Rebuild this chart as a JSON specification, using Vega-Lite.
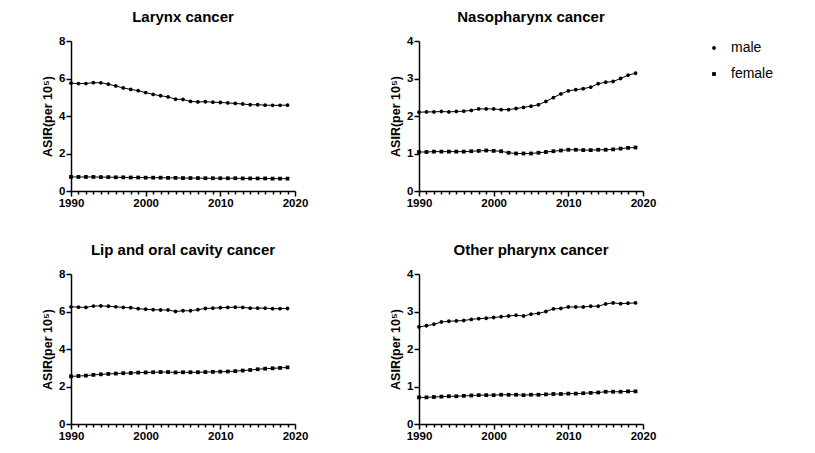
{
  "$schema": "https://vega.github.io/schema/vega-lite/v6.json",
  "padding": {"left": 41, "top": 10, "right": 5, "bottom": 5},
  "datasets": {
    "asir": [
      {"cancer": "Larynx", "sex": "male", "year": 1990, "asir": 5.75},
      {"cancer": "Larynx", "sex": "male", "year": 1991, "asir": 5.73},
      {"cancer": "Larynx", "sex": "male", "year": 1992, "asir": 5.73},
      {"cancer": "Larynx", "sex": "male", "year": 1993, "asir": 5.78},
      {"cancer": "Larynx", "sex": "male", "year": 1994, "asir": 5.77},
      {"cancer": "Larynx", "sex": "male", "year": 1995, "asir": 5.7},
      {"cancer": "Larynx", "sex": "male", "year": 1996, "asir": 5.6},
      {"cancer": "Larynx", "sex": "male", "year": 1997, "asir": 5.5},
      {"cancer": "Larynx", "sex": "male", "year": 1998, "asir": 5.42},
      {"cancer": "Larynx", "sex": "male", "year": 1999, "asir": 5.35},
      {"cancer": "Larynx", "sex": "male", "year": 2000, "asir": 5.25},
      {"cancer": "Larynx", "sex": "male", "year": 2001, "asir": 5.15},
      {"cancer": "Larynx", "sex": "male", "year": 2002, "asir": 5.08},
      {"cancer": "Larynx", "sex": "male", "year": 2003, "asir": 5.02},
      {"cancer": "Larynx", "sex": "male", "year": 2004, "asir": 4.9},
      {"cancer": "Larynx", "sex": "male", "year": 2005, "asir": 4.88},
      {"cancer": "Larynx", "sex": "male", "year": 2006, "asir": 4.78},
      {"cancer": "Larynx", "sex": "male", "year": 2007, "asir": 4.75},
      {"cancer": "Larynx", "sex": "male", "year": 2008, "asir": 4.76},
      {"cancer": "Larynx", "sex": "male", "year": 2009, "asir": 4.74},
      {"cancer": "Larynx", "sex": "male", "year": 2010, "asir": 4.72},
      {"cancer": "Larynx", "sex": "male", "year": 2011, "asir": 4.7},
      {"cancer": "Larynx", "sex": "male", "year": 2012, "asir": 4.67},
      {"cancer": "Larynx", "sex": "male", "year": 2013, "asir": 4.64},
      {"cancer": "Larynx", "sex": "male", "year": 2014, "asir": 4.6},
      {"cancer": "Larynx", "sex": "male", "year": 2015, "asir": 4.6},
      {"cancer": "Larynx", "sex": "male", "year": 2016, "asir": 4.58},
      {"cancer": "Larynx", "sex": "male", "year": 2017, "asir": 4.57},
      {"cancer": "Larynx", "sex": "male", "year": 2018, "asir": 4.57},
      {"cancer": "Larynx", "sex": "male", "year": 2019, "asir": 4.58},
      {"cancer": "Larynx", "sex": "female", "year": 1990, "asir": 0.75},
      {"cancer": "Larynx", "sex": "female", "year": 1991, "asir": 0.75},
      {"cancer": "Larynx", "sex": "female", "year": 1992, "asir": 0.75},
      {"cancer": "Larynx", "sex": "female", "year": 1993, "asir": 0.75},
      {"cancer": "Larynx", "sex": "female", "year": 1994, "asir": 0.74},
      {"cancer": "Larynx", "sex": "female", "year": 1995, "asir": 0.74},
      {"cancer": "Larynx", "sex": "female", "year": 1996, "asir": 0.73},
      {"cancer": "Larynx", "sex": "female", "year": 1997, "asir": 0.73},
      {"cancer": "Larynx", "sex": "female", "year": 1998, "asir": 0.72},
      {"cancer": "Larynx", "sex": "female", "year": 1999, "asir": 0.72},
      {"cancer": "Larynx", "sex": "female", "year": 2000, "asir": 0.71},
      {"cancer": "Larynx", "sex": "female", "year": 2001, "asir": 0.71},
      {"cancer": "Larynx", "sex": "female", "year": 2002, "asir": 0.71},
      {"cancer": "Larynx", "sex": "female", "year": 2003, "asir": 0.7},
      {"cancer": "Larynx", "sex": "female", "year": 2004, "asir": 0.7},
      {"cancer": "Larynx", "sex": "female", "year": 2005, "asir": 0.69},
      {"cancer": "Larynx", "sex": "female", "year": 2006, "asir": 0.69},
      {"cancer": "Larynx", "sex": "female", "year": 2007, "asir": 0.69},
      {"cancer": "Larynx", "sex": "female", "year": 2008, "asir": 0.68},
      {"cancer": "Larynx", "sex": "female", "year": 2009, "asir": 0.68},
      {"cancer": "Larynx", "sex": "female", "year": 2010, "asir": 0.68},
      {"cancer": "Larynx", "sex": "female", "year": 2011, "asir": 0.68},
      {"cancer": "Larynx", "sex": "female", "year": 2012, "asir": 0.68},
      {"cancer": "Larynx", "sex": "female", "year": 2013, "asir": 0.67},
      {"cancer": "Larynx", "sex": "female", "year": 2014, "asir": 0.67},
      {"cancer": "Larynx", "sex": "female", "year": 2015, "asir": 0.67},
      {"cancer": "Larynx", "sex": "female", "year": 2016, "asir": 0.67},
      {"cancer": "Larynx", "sex": "female", "year": 2017, "asir": 0.66},
      {"cancer": "Larynx", "sex": "female", "year": 2018, "asir": 0.66},
      {"cancer": "Larynx", "sex": "female", "year": 2019, "asir": 0.66},
      {"cancer": "Nasopharynx", "sex": "male", "year": 1990, "asir": 2.1},
      {"cancer": "Nasopharynx", "sex": "male", "year": 1991, "asir": 2.11},
      {"cancer": "Nasopharynx", "sex": "male", "year": 1992, "asir": 2.11},
      {"cancer": "Nasopharynx", "sex": "male", "year": 1993, "asir": 2.12},
      {"cancer": "Nasopharynx", "sex": "male", "year": 1994, "asir": 2.11},
      {"cancer": "Nasopharynx", "sex": "male", "year": 1995, "asir": 2.12},
      {"cancer": "Nasopharynx", "sex": "male", "year": 1996, "asir": 2.13},
      {"cancer": "Nasopharynx", "sex": "male", "year": 1997, "asir": 2.15},
      {"cancer": "Nasopharynx", "sex": "male", "year": 1998, "asir": 2.19},
      {"cancer": "Nasopharynx", "sex": "male", "year": 1999, "asir": 2.19},
      {"cancer": "Nasopharynx", "sex": "male", "year": 2000, "asir": 2.19},
      {"cancer": "Nasopharynx", "sex": "male", "year": 2001, "asir": 2.17},
      {"cancer": "Nasopharynx", "sex": "male", "year": 2002, "asir": 2.17},
      {"cancer": "Nasopharynx", "sex": "male", "year": 2003, "asir": 2.2},
      {"cancer": "Nasopharynx", "sex": "male", "year": 2004, "asir": 2.23},
      {"cancer": "Nasopharynx", "sex": "male", "year": 2005, "asir": 2.26},
      {"cancer": "Nasopharynx", "sex": "male", "year": 2006, "asir": 2.3},
      {"cancer": "Nasopharynx", "sex": "male", "year": 2007, "asir": 2.39},
      {"cancer": "Nasopharynx", "sex": "male", "year": 2008, "asir": 2.49},
      {"cancer": "Nasopharynx", "sex": "male", "year": 2009, "asir": 2.59},
      {"cancer": "Nasopharynx", "sex": "male", "year": 2010, "asir": 2.67},
      {"cancer": "Nasopharynx", "sex": "male", "year": 2011, "asir": 2.7},
      {"cancer": "Nasopharynx", "sex": "male", "year": 2012, "asir": 2.73},
      {"cancer": "Nasopharynx", "sex": "male", "year": 2013, "asir": 2.77},
      {"cancer": "Nasopharynx", "sex": "male", "year": 2014, "asir": 2.86},
      {"cancer": "Nasopharynx", "sex": "male", "year": 2015, "asir": 2.9},
      {"cancer": "Nasopharynx", "sex": "male", "year": 2016, "asir": 2.92},
      {"cancer": "Nasopharynx", "sex": "male", "year": 2017, "asir": 3.0},
      {"cancer": "Nasopharynx", "sex": "male", "year": 2018, "asir": 3.09},
      {"cancer": "Nasopharynx", "sex": "male", "year": 2019, "asir": 3.14},
      {"cancer": "Nasopharynx", "sex": "female", "year": 1990, "asir": 1.04},
      {"cancer": "Nasopharynx", "sex": "female", "year": 1991, "asir": 1.04},
      {"cancer": "Nasopharynx", "sex": "female", "year": 1992, "asir": 1.05},
      {"cancer": "Nasopharynx", "sex": "female", "year": 1993, "asir": 1.05},
      {"cancer": "Nasopharynx", "sex": "female", "year": 1994, "asir": 1.05},
      {"cancer": "Nasopharynx", "sex": "female", "year": 1995, "asir": 1.05},
      {"cancer": "Nasopharynx", "sex": "female", "year": 1996, "asir": 1.05},
      {"cancer": "Nasopharynx", "sex": "female", "year": 1997, "asir": 1.06},
      {"cancer": "Nasopharynx", "sex": "female", "year": 1998, "asir": 1.07},
      {"cancer": "Nasopharynx", "sex": "female", "year": 1999, "asir": 1.08},
      {"cancer": "Nasopharynx", "sex": "female", "year": 2000, "asir": 1.07},
      {"cancer": "Nasopharynx", "sex": "female", "year": 2001, "asir": 1.06},
      {"cancer": "Nasopharynx", "sex": "female", "year": 2002, "asir": 1.02},
      {"cancer": "Nasopharynx", "sex": "female", "year": 2003, "asir": 1.0},
      {"cancer": "Nasopharynx", "sex": "female", "year": 2004, "asir": 1.0},
      {"cancer": "Nasopharynx", "sex": "female", "year": 2005, "asir": 1.0},
      {"cancer": "Nasopharynx", "sex": "female", "year": 2006, "asir": 1.02},
      {"cancer": "Nasopharynx", "sex": "female", "year": 2007, "asir": 1.04},
      {"cancer": "Nasopharynx", "sex": "female", "year": 2008, "asir": 1.06},
      {"cancer": "Nasopharynx", "sex": "female", "year": 2009, "asir": 1.08},
      {"cancer": "Nasopharynx", "sex": "female", "year": 2010, "asir": 1.1},
      {"cancer": "Nasopharynx", "sex": "female", "year": 2011, "asir": 1.1},
      {"cancer": "Nasopharynx", "sex": "female", "year": 2012, "asir": 1.09},
      {"cancer": "Nasopharynx", "sex": "female", "year": 2013, "asir": 1.09},
      {"cancer": "Nasopharynx", "sex": "female", "year": 2014, "asir": 1.1},
      {"cancer": "Nasopharynx", "sex": "female", "year": 2015, "asir": 1.1},
      {"cancer": "Nasopharynx", "sex": "female", "year": 2016, "asir": 1.11},
      {"cancer": "Nasopharynx", "sex": "female", "year": 2017, "asir": 1.13},
      {"cancer": "Nasopharynx", "sex": "female", "year": 2018, "asir": 1.15},
      {"cancer": "Nasopharynx", "sex": "female", "year": 2019, "asir": 1.16},
      {"cancer": "Lip and oral cavity", "sex": "male", "year": 1990, "asir": 6.25},
      {"cancer": "Lip and oral cavity", "sex": "male", "year": 1991, "asir": 6.23},
      {"cancer": "Lip and oral cavity", "sex": "male", "year": 1992, "asir": 6.22},
      {"cancer": "Lip and oral cavity", "sex": "male", "year": 1993, "asir": 6.29},
      {"cancer": "Lip and oral cavity", "sex": "male", "year": 1994, "asir": 6.3},
      {"cancer": "Lip and oral cavity", "sex": "male", "year": 1995, "asir": 6.28},
      {"cancer": "Lip and oral cavity", "sex": "male", "year": 1996, "asir": 6.25},
      {"cancer": "Lip and oral cavity", "sex": "male", "year": 1997, "asir": 6.22},
      {"cancer": "Lip and oral cavity", "sex": "male", "year": 1998, "asir": 6.2},
      {"cancer": "Lip and oral cavity", "sex": "male", "year": 1999, "asir": 6.15},
      {"cancer": "Lip and oral cavity", "sex": "male", "year": 2000, "asir": 6.12},
      {"cancer": "Lip and oral cavity", "sex": "male", "year": 2001, "asir": 6.1},
      {"cancer": "Lip and oral cavity", "sex": "male", "year": 2002, "asir": 6.08},
      {"cancer": "Lip and oral cavity", "sex": "male", "year": 2003, "asir": 6.08},
      {"cancer": "Lip and oral cavity", "sex": "male", "year": 2004, "asir": 6.0},
      {"cancer": "Lip and oral cavity", "sex": "male", "year": 2005, "asir": 6.04},
      {"cancer": "Lip and oral cavity", "sex": "male", "year": 2006, "asir": 6.04},
      {"cancer": "Lip and oral cavity", "sex": "male", "year": 2007, "asir": 6.1},
      {"cancer": "Lip and oral cavity", "sex": "male", "year": 2008, "asir": 6.16},
      {"cancer": "Lip and oral cavity", "sex": "male", "year": 2009, "asir": 6.18},
      {"cancer": "Lip and oral cavity", "sex": "male", "year": 2010, "asir": 6.2},
      {"cancer": "Lip and oral cavity", "sex": "male", "year": 2011, "asir": 6.22},
      {"cancer": "Lip and oral cavity", "sex": "male", "year": 2012, "asir": 6.23},
      {"cancer": "Lip and oral cavity", "sex": "male", "year": 2013, "asir": 6.22},
      {"cancer": "Lip and oral cavity", "sex": "male", "year": 2014, "asir": 6.18},
      {"cancer": "Lip and oral cavity", "sex": "male", "year": 2015, "asir": 6.18},
      {"cancer": "Lip and oral cavity", "sex": "male", "year": 2016, "asir": 6.18},
      {"cancer": "Lip and oral cavity", "sex": "male", "year": 2017, "asir": 6.15},
      {"cancer": "Lip and oral cavity", "sex": "male", "year": 2018, "asir": 6.15},
      {"cancer": "Lip and oral cavity", "sex": "male", "year": 2019, "asir": 6.16},
      {"cancer": "Lip and oral cavity", "sex": "female", "year": 1990, "asir": 2.54},
      {"cancer": "Lip and oral cavity", "sex": "female", "year": 1991, "asir": 2.56},
      {"cancer": "Lip and oral cavity", "sex": "female", "year": 1992, "asir": 2.58},
      {"cancer": "Lip and oral cavity", "sex": "female", "year": 1993, "asir": 2.62},
      {"cancer": "Lip and oral cavity", "sex": "female", "year": 1994, "asir": 2.65},
      {"cancer": "Lip and oral cavity", "sex": "female", "year": 1995, "asir": 2.67},
      {"cancer": "Lip and oral cavity", "sex": "female", "year": 1996, "asir": 2.69},
      {"cancer": "Lip and oral cavity", "sex": "female", "year": 1997, "asir": 2.71},
      {"cancer": "Lip and oral cavity", "sex": "female", "year": 1998, "asir": 2.72},
      {"cancer": "Lip and oral cavity", "sex": "female", "year": 1999, "asir": 2.74},
      {"cancer": "Lip and oral cavity", "sex": "female", "year": 2000, "asir": 2.75},
      {"cancer": "Lip and oral cavity", "sex": "female", "year": 2001, "asir": 2.76},
      {"cancer": "Lip and oral cavity", "sex": "female", "year": 2002, "asir": 2.77},
      {"cancer": "Lip and oral cavity", "sex": "female", "year": 2003, "asir": 2.77},
      {"cancer": "Lip and oral cavity", "sex": "female", "year": 2004, "asir": 2.75},
      {"cancer": "Lip and oral cavity", "sex": "female", "year": 2005, "asir": 2.76},
      {"cancer": "Lip and oral cavity", "sex": "female", "year": 2006, "asir": 2.76},
      {"cancer": "Lip and oral cavity", "sex": "female", "year": 2007, "asir": 2.76},
      {"cancer": "Lip and oral cavity", "sex": "female", "year": 2008, "asir": 2.77},
      {"cancer": "Lip and oral cavity", "sex": "female", "year": 2009, "asir": 2.78},
      {"cancer": "Lip and oral cavity", "sex": "female", "year": 2010, "asir": 2.79},
      {"cancer": "Lip and oral cavity", "sex": "female", "year": 2011, "asir": 2.8},
      {"cancer": "Lip and oral cavity", "sex": "female", "year": 2012, "asir": 2.82},
      {"cancer": "Lip and oral cavity", "sex": "female", "year": 2013, "asir": 2.85},
      {"cancer": "Lip and oral cavity", "sex": "female", "year": 2014, "asir": 2.88},
      {"cancer": "Lip and oral cavity", "sex": "female", "year": 2015, "asir": 2.92},
      {"cancer": "Lip and oral cavity", "sex": "female", "year": 2016, "asir": 2.95},
      {"cancer": "Lip and oral cavity", "sex": "female", "year": 2017, "asir": 2.97},
      {"cancer": "Lip and oral cavity", "sex": "female", "year": 2018, "asir": 2.99},
      {"cancer": "Lip and oral cavity", "sex": "female", "year": 2019, "asir": 3.02},
      {"cancer": "Other pharynx", "sex": "male", "year": 1990, "asir": 2.59},
      {"cancer": "Other pharynx", "sex": "male", "year": 1991, "asir": 2.62},
      {"cancer": "Other pharynx", "sex": "male", "year": 1992, "asir": 2.66},
      {"cancer": "Other pharynx", "sex": "male", "year": 1993, "asir": 2.72},
      {"cancer": "Other pharynx", "sex": "male", "year": 1994, "asir": 2.74},
      {"cancer": "Other pharynx", "sex": "male", "year": 1995, "asir": 2.75},
      {"cancer": "Other pharynx", "sex": "male", "year": 1996, "asir": 2.76},
      {"cancer": "Other pharynx", "sex": "male", "year": 1997, "asir": 2.79},
      {"cancer": "Other pharynx", "sex": "male", "year": 1998, "asir": 2.81},
      {"cancer": "Other pharynx", "sex": "male", "year": 1999, "asir": 2.82},
      {"cancer": "Other pharynx", "sex": "male", "year": 2000, "asir": 2.84},
      {"cancer": "Other pharynx", "sex": "male", "year": 2001, "asir": 2.86},
      {"cancer": "Other pharynx", "sex": "male", "year": 2002, "asir": 2.88},
      {"cancer": "Other pharynx", "sex": "male", "year": 2003, "asir": 2.9},
      {"cancer": "Other pharynx", "sex": "male", "year": 2004, "asir": 2.88},
      {"cancer": "Other pharynx", "sex": "male", "year": 2005, "asir": 2.93},
      {"cancer": "Other pharynx", "sex": "male", "year": 2006, "asir": 2.95},
      {"cancer": "Other pharynx", "sex": "male", "year": 2007, "asir": 3.0},
      {"cancer": "Other pharynx", "sex": "male", "year": 2008, "asir": 3.07},
      {"cancer": "Other pharynx", "sex": "male", "year": 2009, "asir": 3.08},
      {"cancer": "Other pharynx", "sex": "male", "year": 2010, "asir": 3.12},
      {"cancer": "Other pharynx", "sex": "male", "year": 2011, "asir": 3.12},
      {"cancer": "Other pharynx", "sex": "male", "year": 2012, "asir": 3.12},
      {"cancer": "Other pharynx", "sex": "male", "year": 2013, "asir": 3.14},
      {"cancer": "Other pharynx", "sex": "male", "year": 2014, "asir": 3.14},
      {"cancer": "Other pharynx", "sex": "male", "year": 2015, "asir": 3.2},
      {"cancer": "Other pharynx", "sex": "male", "year": 2016, "asir": 3.23},
      {"cancer": "Other pharynx", "sex": "male", "year": 2017, "asir": 3.21},
      {"cancer": "Other pharynx", "sex": "male", "year": 2018, "asir": 3.22},
      {"cancer": "Other pharynx", "sex": "male", "year": 2019, "asir": 3.23},
      {"cancer": "Other pharynx", "sex": "female", "year": 1990, "asir": 0.71},
      {"cancer": "Other pharynx", "sex": "female", "year": 1991, "asir": 0.71},
      {"cancer": "Other pharynx", "sex": "female", "year": 1992, "asir": 0.72},
      {"cancer": "Other pharynx", "sex": "female", "year": 1993, "asir": 0.73},
      {"cancer": "Other pharynx", "sex": "female", "year": 1994, "asir": 0.74},
      {"cancer": "Other pharynx", "sex": "female", "year": 1995, "asir": 0.74},
      {"cancer": "Other pharynx", "sex": "female", "year": 1996, "asir": 0.75},
      {"cancer": "Other pharynx", "sex": "female", "year": 1997, "asir": 0.76},
      {"cancer": "Other pharynx", "sex": "female", "year": 1998, "asir": 0.77},
      {"cancer": "Other pharynx", "sex": "female", "year": 1999, "asir": 0.77},
      {"cancer": "Other pharynx", "sex": "female", "year": 2000, "asir": 0.77},
      {"cancer": "Other pharynx", "sex": "female", "year": 2001, "asir": 0.78},
      {"cancer": "Other pharynx", "sex": "female", "year": 2002, "asir": 0.78},
      {"cancer": "Other pharynx", "sex": "female", "year": 2003, "asir": 0.78},
      {"cancer": "Other pharynx", "sex": "female", "year": 2004, "asir": 0.77},
      {"cancer": "Other pharynx", "sex": "female", "year": 2005, "asir": 0.78},
      {"cancer": "Other pharynx", "sex": "female", "year": 2006, "asir": 0.78},
      {"cancer": "Other pharynx", "sex": "female", "year": 2007, "asir": 0.79},
      {"cancer": "Other pharynx", "sex": "female", "year": 2008, "asir": 0.8},
      {"cancer": "Other pharynx", "sex": "female", "year": 2009, "asir": 0.8},
      {"cancer": "Other pharynx", "sex": "female", "year": 2010, "asir": 0.81},
      {"cancer": "Other pharynx", "sex": "female", "year": 2011, "asir": 0.81},
      {"cancer": "Other pharynx", "sex": "female", "year": 2012, "asir": 0.82},
      {"cancer": "Other pharynx", "sex": "female", "year": 2013, "asir": 0.83},
      {"cancer": "Other pharynx", "sex": "female", "year": 2014, "asir": 0.84},
      {"cancer": "Other pharynx", "sex": "female", "year": 2015, "asir": 0.86},
      {"cancer": "Other pharynx", "sex": "female", "year": 2016, "asir": 0.86},
      {"cancer": "Other pharynx", "sex": "female", "year": 2017, "asir": 0.86},
      {"cancer": "Other pharynx", "sex": "female", "year": 2018, "asir": 0.87},
      {"cancer": "Other pharynx", "sex": "female", "year": 2019, "asir": 0.87}
    ]
  },
  "data": {"name": "asir"},
  "columns": 2,
  "spacing": {"row": 34, "column": 81},
  "concat": [
    {
      "title": "Larynx cancer",
      "width": 224,
      "height": 150,
      "transform": [{"filter": "datum.cancer === 'Larynx'"}],
      "encoding": {
        "x": {"field": "year", "type": "quantitative", "title": null, "scale": {"domain": [1990, 2020], "nice": false, "zero": false},
              "axis": {"values": [1990,1991,1992,1993,1994,1995,1996,1997,1998,1999,2000,2001,2002,2003,2004,2005,2006,2007,2008,2009,2010,2011,2012,2013,2014,2015,2016,2017,2018,2019,2020],
                       "format": "d",
                       "labelExpr": "datum.value % 10 === 0 ? datum.label : ''",
                       "tickSize": {"condition": {"test": "datum.value % 10 === 0", "value": 5}, "value": 3}}},
        "y": {"field": "asir", "type": "quantitative", "title": "ASIR(per 10⁵)", "scale": {"domain": [0, 8], "nice": false}, "axis": {"values": [0, 2, 4, 6, 8]}}
      },
      "layer": [
        {"mark": {"type": "line", "color": "black", "strokeWidth": 1}, "encoding": {"detail": {"field": "sex"}}},
        {"mark": {"type": "point", "filled": true, "color": "black", "opacity": 1, "size": 70},
         "encoding": {"shape": {"field": "sex", "type": "nominal", "title": null,
           "scale": {"domain": ["male", "female"], "range": ["M-0.45,0A0.45,0.45,0,1,0,0.45,0A0.45,0.45,0,1,0,-0.45,0Z", "M-0.45,-0.45H0.45V0.45H-0.45Z"]}}}}
      ]
    },
    {
      "title": "Nasopharynx cancer",
      "width": 224,
      "height": 150,
      "transform": [{"filter": "datum.cancer === 'Nasopharynx'"}],
      "encoding": {
        "x": {"field": "year", "type": "quantitative", "title": null, "scale": {"domain": [1990, 2020], "nice": false, "zero": false},
              "axis": {"values": [1990,1991,1992,1993,1994,1995,1996,1997,1998,1999,2000,2001,2002,2003,2004,2005,2006,2007,2008,2009,2010,2011,2012,2013,2014,2015,2016,2017,2018,2019,2020],
                       "format": "d",
                       "labelExpr": "datum.value % 10 === 0 ? datum.label : ''",
                       "tickSize": {"condition": {"test": "datum.value % 10 === 0", "value": 5}, "value": 3}}},
        "y": {"field": "asir", "type": "quantitative", "title": "ASIR(per 10⁵)", "scale": {"domain": [0, 4], "nice": false}, "axis": {"values": [0, 1, 2, 3, 4]}}
      },
      "layer": [
        {"mark": {"type": "line", "color": "black", "strokeWidth": 1}, "encoding": {"detail": {"field": "sex"}}},
        {"mark": {"type": "point", "filled": true, "color": "black", "opacity": 1, "size": 70},
         "encoding": {"shape": {"field": "sex", "type": "nominal", "title": null,
           "scale": {"domain": ["male", "female"], "range": ["M-0.45,0A0.45,0.45,0,1,0,0.45,0A0.45,0.45,0,1,0,-0.45,0Z", "M-0.45,-0.45H0.45V0.45H-0.45Z"]}}}}
      ]
    },
    {
      "title": "Lip and oral cavity cancer",
      "width": 224,
      "height": 150,
      "transform": [{"filter": "datum.cancer === 'Lip and oral cavity'"}],
      "encoding": {
        "x": {"field": "year", "type": "quantitative", "title": null, "scale": {"domain": [1990, 2020], "nice": false, "zero": false},
              "axis": {"values": [1990,1991,1992,1993,1994,1995,1996,1997,1998,1999,2000,2001,2002,2003,2004,2005,2006,2007,2008,2009,2010,2011,2012,2013,2014,2015,2016,2017,2018,2019,2020],
                       "format": "d",
                       "labelExpr": "datum.value % 10 === 0 ? datum.label : ''",
                       "tickSize": {"condition": {"test": "datum.value % 10 === 0", "value": 5}, "value": 3}}},
        "y": {"field": "asir", "type": "quantitative", "title": "ASIR(per 10⁵)", "scale": {"domain": [0, 8], "nice": false}, "axis": {"values": [0, 2, 4, 6, 8]}}
      },
      "layer": [
        {"mark": {"type": "line", "color": "black", "strokeWidth": 1}, "encoding": {"detail": {"field": "sex"}}},
        {"mark": {"type": "point", "filled": true, "color": "black", "opacity": 1, "size": 70},
         "encoding": {"shape": {"field": "sex", "type": "nominal", "title": null,
           "scale": {"domain": ["male", "female"], "range": ["M-0.45,0A0.45,0.45,0,1,0,0.45,0A0.45,0.45,0,1,0,-0.45,0Z", "M-0.45,-0.45H0.45V0.45H-0.45Z"]}}}}
      ]
    },
    {
      "title": "Other pharynx cancer",
      "width": 224,
      "height": 150,
      "transform": [{"filter": "datum.cancer === 'Other pharynx'"}],
      "encoding": {
        "x": {"field": "year", "type": "quantitative", "title": null, "scale": {"domain": [1990, 2020], "nice": false, "zero": false},
              "axis": {"values": [1990,1991,1992,1993,1994,1995,1996,1997,1998,1999,2000,2001,2002,2003,2004,2005,2006,2007,2008,2009,2010,2011,2012,2013,2014,2015,2016,2017,2018,2019,2020],
                       "format": "d",
                       "labelExpr": "datum.value % 10 === 0 ? datum.label : ''",
                       "tickSize": {"condition": {"test": "datum.value % 10 === 0", "value": 5}, "value": 3}}},
        "y": {"field": "asir", "type": "quantitative", "title": "ASIR(per 10⁵)", "scale": {"domain": [0, 4], "nice": false}, "axis": {"values": [0, 1, 2, 3, 4]}}
      },
      "layer": [
        {"mark": {"type": "line", "color": "black", "strokeWidth": 1}, "encoding": {"detail": {"field": "sex"}}},
        {"mark": {"type": "point", "filled": true, "color": "black", "opacity": 1, "size": 70},
         "encoding": {"shape": {"field": "sex", "type": "nominal", "title": null,
           "scale": {"domain": ["male", "female"], "range": ["M-0.45,0A0.45,0.45,0,1,0,0.45,0A0.45,0.45,0,1,0,-0.45,0Z", "M-0.45,-0.45H0.45V0.45H-0.45Z"]}}}}
      ]
    }
  ],
  "resolve": {"scale": {"y": "independent", "x": "independent"}},
  "config": {
    "font": "Liberation Sans",
    "view": {"stroke": null},
    "title": {"fontSize": 15, "fontWeight": "bold", "color": "black", "offset": 10, "frame": "group"},
    "axis": {
      "grid": false,
      "domainColor": "black",
      "domainWidth": 1.5,
      "tickColor": "black",
      "tickWidth": 1.5,
      "labelColor": "black",
      "labelFontWeight": "bold",
      "labelFontSize": 11.5,
      "labelOverlap": false,
      "labelFlush": false,
      "labelPadding": 1,
      "titleColor": "black",
      "titleFontWeight": "bold",
      "titleFontSize": 12.5
    },
    "axisY": {"tickSize": 5, "titlePadding": 4},
    "legend": {
      "offset": 51,
      "labelFontSize": 14,
      "labelColor": "black",
      "labelOffset": 10,
      "rowPadding": 12,
      "symbolSize": 70
    }
  }
}
